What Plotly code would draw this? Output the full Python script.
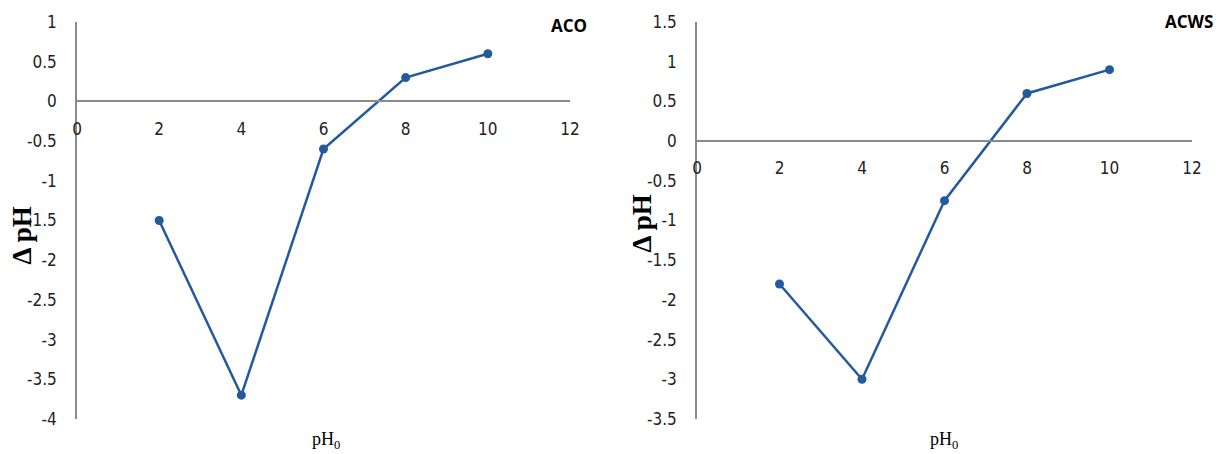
import plotly.graph_objects as go

# Initial pH values and resulting pH change for the two adsorbents
ph0 = [2, 4, 6, 8, 10]
delta_aco = [-1.5, -3.7, -0.6, 0.3, 0.6]
delta_acws = [-1.8, -3.0, -0.75, 0.6, 0.9]

x_ticks = [0, 2, 4, 6, 8, 10, 12]
aco_y_ticks = [1, 0.5, 0, -0.5, -1, -1.5, -2, -2.5, -3, -3.5, -4]
acws_y_ticks = [1.5, 1, 0.5, 0, -0.5, -1, -1.5, -2, -2.5, -3, -3.5]

W, H = 1221, 454
ML, MR, MT, MB = 77, 29, 19, 35
PW = W - ML - MR
PH = H - MT - MB


def px(x):
    return (x - ML) / PW


def py(y):
    return (H - MB - y) / PH


LINE = "#235A9C"
AXIS = "#8A8A8A"
TICKFONT = dict(family="Liberation Sans Narrow, DejaVu Sans Condensed, Roboto Condensed, Roboto",
                size=17, color="#222222")

fig = go.Figure()
fig.add_trace(go.Scatter(x=ph0, y=delta_aco, mode="lines+markers",
                         line=dict(color=LINE, width=2.5),
                         marker=dict(size=9, color=LINE),
                         xaxis="x", yaxis="y", showlegend=False))
fig.add_trace(go.Scatter(x=ph0, y=delta_acws, mode="lines+markers",
                         line=dict(color=LINE, width=2.5),
                         marker=dict(size=9, color=LINE),
                         xaxis="x2", yaxis="y2", showlegend=False))

left_dom = [0, px(570)]
right_dom = [px(697), 1]


def yaxis_cfg(rng, ticks):
    return dict(range=rng, tickmode="array", tickvals=ticks,
                ticktext=[f"{t:g}" for t in ticks],
                showgrid=False, zeroline=False, showline=True, linecolor=AXIS,
                linewidth=1.5, ticks="", ticklabelstandoff=15, tickfont=TICKFONT,
                domain=[0, 1])


def xaxis_cfg(dom, pos):
    return dict(range=[0, 12], tickmode="array", tickvals=x_ticks,
                showgrid=False, zeroline=False,
                showline=True, linecolor=AXIS, linewidth=1.5, ticks="",
                ticklabelstandoff=12, tickfont=TICKFONT, domain=dom,
                anchor="free", position=pos)


fig.update_layout(
    width=W, height=H,
    margin=dict(l=ML, r=MR, t=MT, b=MB),
    paper_bgcolor="white", plot_bgcolor="white",
    xaxis=xaxis_cfg(left_dom, 0.8),
    yaxis=yaxis_cfg([-4, 1], aco_y_ticks),
    xaxis2=xaxis_cfg(right_dom, 0.7),
    yaxis2=yaxis_cfg([-3.5, 1.5], acws_y_ticks),
)
fig.layout.yaxis.anchor = "x"
fig.layout.yaxis2.anchor = "x2"

ann = [
    dict(text="<b>ACO</b>", x=px(569), y=py(23),
         font=dict(family="Open Sans", size=17, color="black")),
    dict(text="<b>ACWS</b>", x=px(1189), y=py(18),
         font=dict(family="Open Sans", size=17, color="black")),
    dict(text="<b>Δ pH</b>", x=px(22), y=py(234), textangle=-90,
         font=dict(family="Liberation Serif", size=27, color="black")),
    dict(text="<b>Δ pH</b>", x=px(642), y=py(222), textangle=-90,
         font=dict(family="Liberation Serif", size=27, color="black")),
    dict(text="pH<sub>0</sub>", x=px(326), y=py(441),
         font=dict(family="Liberation Serif", size=18, color="black")),
    dict(text="pH<sub>0</sub>", x=px(944), y=py(441),
         font=dict(family="Liberation Serif", size=18, color="black")),
]
for a in ann:
    fig.add_annotation(xref="paper", yref="paper", showarrow=False,
                       xanchor="center", yanchor="middle", **a)

fig.write_html("out.html")
